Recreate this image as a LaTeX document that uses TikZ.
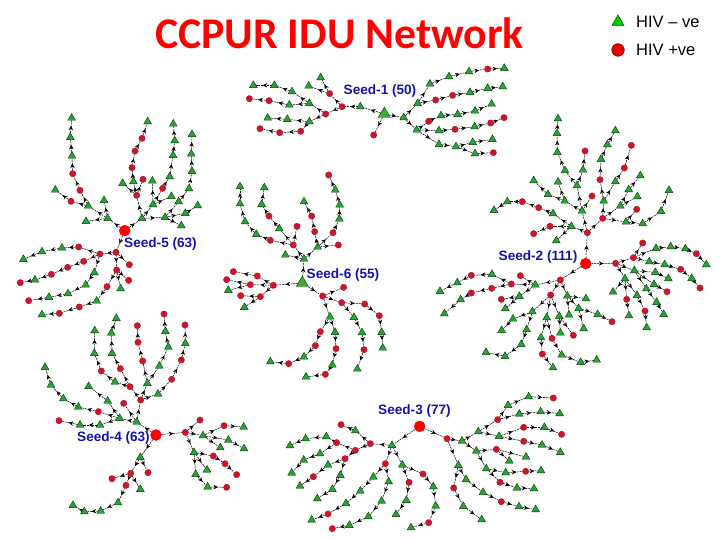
\documentclass[tikz,border=0pt]{standalone}
\usepackage{fontspec}
\setmainfont{Liberation Sans}
\newfontfamily\titlefont{Carlito}
\usetikzlibrary{arrows.meta,backgrounds,decorations.markings,shapes.geometric}
\definecolor{hivneg}{RGB}{46,160,58}
\definecolor{hivpos}{RGB}{205,20,40}
\definecolor{seedblue}{RGB}{20,20,170}
\tikzset{
  gn/.style={draw=black!75!green,line width=.4pt,fill=hivneg,regular polygon,regular polygon sides=3,inner sep=0pt,minimum size=9pt},
  rd/.style={draw=hivpos!80!black,line width=.3pt,fill=hivpos,circle,inner sep=0pt,minimum size=6.4pt},
  rootgn/.style={gn,fill=hivneg!90!lime,minimum size=14pt},
  rootrd/.style={draw=red!85!black,line width=.3pt,fill=red,circle,inner sep=0pt,minimum size=11pt},
  seedlabel/.style={text=seedblue,font=\fontsize{13.6}{15}\selectfont\bfseries,inner sep=0pt},
  legendtext/.style={font=\fontsize{16.5}{19}\selectfont,inner sep=0pt,anchor=west},
  link/.style={line width=.5pt,dash pattern=on 2pt off .8pt,
    postaction={decorate,decoration={markings,mark=at position .58 with {\arrow[solid]{Stealth[length=4.6pt,width=4.4pt]}}}}},
}
% tree in crop coordinates: #1 id, #2 crop corner, #3 root style, #4 root position, #5 kind/id/x/y/parent
\newcommand{\seedtree}[5]{%
  \begin{scope}[shift={#2},x=.33333pt,y=-.33333pt]
    \node[#3] (s#1-0) at #4 {};
    \foreach \k/\n/\x/\y/\p in {#5}
      \node[\k] (s#1-\n) at (\x,\y) {};
    \begin{scope}[on background layer]
      \foreach \k/\n/\x/\y/\p in {#5}
        \draw[link] (s#1-\p) -- (s#1-\n);
    \end{scope}
  \end{scope}}
\begin{document}
\begin{tikzpicture}[x=1pt,y=-1pt]
  \useasboundingbox (0,0) rectangle (720,540);

  \node[text=red,font=\fontsize{43.8}{48}\selectfont\titlefont\bfseries,inner sep=0pt] (title) at (339.5,33) {CCPUR IDU Network};

  % legend
  \node[draw=black!70!green,line width=.5pt,fill=green!80!black,regular polygon,regular polygon sides=3,inner sep=0pt,minimum size=14pt] (legneg) at (618,22) {};
  \node[draw=red!60!black,line width=.7pt,fill=red!90!black,circle,inner sep=0pt,minimum size=12.5pt] (legpos) at (618,50) {};
  \node[legendtext] (legnegtext) at (636,22) {HIV -- ve};
  \node[legendtext] (legpostext) at (636,50) {HIV +ve};

  % seed 1
  \seedtree{1}{(230,60)}{rootgn}{(463,162)}{
    gn/1/391/140/0,rd/2/336/140/1,rd/3/299/101/2,gn/4/272/53/3,gn/5/236/78/3,rd/6/287/162/2,
    gn/7/238/130/6,gn/8/186/95/7,gn/9/133/76/8,gn/10/70/76/9,gn/11/178/135/7,rd/12/117/122/11,
    rd/13/58/116/12,gn/14/238/185/6,rd/15/212/214/14,rd/16/149/218/15,rd/17/90/206/16,
    gn/18/172/178/14,gn/19/113/174/18,rd/20/431/225/0,gn/21/521/173/0,gn/22/563/130/21,
    gn/23/600/72/22,gn/24/657/50/23,gn/25/717/35/24,rd/26/773/27/25,gn/27/823/25/26,
    rd/28/617/120/22,rd/29/668/106/28,gn/30/720/97/29,gn/31/773/85/30,gn/32/818/80/31,
    gn/33/560/210/21,rd/34/596/184/33,gn/35/633/167/34,gn/36/683/163/35,gn/37/735/153/36,
    gn/38/785/132/37,gn/39/627/212/33,rd/40/675/208/39,gn/41/734/200/40,rd/42/782/189/41,
    rd/43/822/173/42,gn/44/627/253/33,gn/45/678/260/44,gn/46/728/247/45,gn/47/787/238/46,
    gn/48/735/281/45,rd/49/790/278/48}
  \node[seedlabel] (lab1) at (380,91) {Seed-1 (50)};

  % seed 5
  \seedtree{5}{(10,100)}{rootrd}{(344,392)}{
    gn/1/293/355/0,gn/2/228/364/1,gn/3/282/301/1,gn/4/235/318/1,rd/5/183/304/4,gn/6/136/270/5,
    rd/7/210/271/4,rd/8/188/221/7,gn/9/186/168/8,gn/10/181/112/9,gn/11/185/54/10,
    gn/12/396/355/0,rd/13/380/286/12,gn/14/338/250/13,gn/15/370/245/13,rd/16/366/203/15,
    rd/17/375/153/16,rd/18/396/115/17,gn/19/413/65/18,rd/20/399/238/13,gn/21/429/314/12,
    gn/22/427/243/21,rd/23/458/265/21,gn/24/479/230/23,gn/25/489/166/24,gn/26/494/122/25,
    gn/27/490/72/26,gn/28/484/289/21,gn/29/465/352/12,gn/30/506/305/29,gn/31/537/266/30,
    gn/32/546/214/31,gn/33/544/162/32,gn/34/546/103/33,gn/35/526/340/29,gn/36/563/317/35,
    gn/37/514/377/29,rd/38/318/457/0,rd/39/358/494/38,rd/40/270/462/38,rd/41/206/441/40,
    gn/42/156/444/41,gn/43/96/455/42,gn/44/40/478/43,rd/45/221/484/40,rd/46/173/502/45,
    rd/47/124/523/46,gn/48/75/540/47,rd/49/31/548/48,gn/50/253/518/40,gn/51/227/555/50,
    gn/52/174/581/51,gn/53/117/592/52,rd/54/56/602/53,rd/55/320/510/38,rd/56/356/541/55,
    gn/57/332/566/55,rd/58/291/560/55,gn/59/260/603/58,rd/60/208/621/59,rd/61/148/640/60,
    gn/62/96/644/61}
  \node[seedlabel] (lab5) at (160.5,244) {Seed-5 (63)};

  % seed 6
  \seedtree{6}{(215,165)}{rootgn}{(262,354)}{
    gn/1/267/282/0,gn/2/211/270/1,rd/3/235/240/1,rd/4/246/184/3,gn/5/193/191/3,rd/6/162/153/5,
    gn/7/140/118/6,gn/8/148/68/7,rd/9/166/226/3,gn/10/124/208/9,gn/11/90/170/10,gn/12/75/116/11,
    gn/13/75/65/12,gn/14/308/246/1,rd/15/299/200/14,rd/16/290/153/15,gn/17/267/110/16,
    rd/18/354/203/14,gn/19/373/162/18,gn/20/374/120/19,gn/21/361/75/20,rd/22/341/30/21,
    rd/23/370/240/14,rd/24/175/361/0,rd/25/127/333/24,rd/26/55/320/25,rd/27/106/359/24,
    rd/28/35/344/27,gn/29/40/376/27,rd/30/136/395/24,rd/31/77/392/30,gn/32/88/427/30,
    rd/33/323/393/0,rd/34/386/367/33,rd/35/380/413/33,rd/36/449/417/35,rd/37/493/452/36,
    gn/38/500/502/37,gn/39/503/549/38,gn/40/417/457/35,gn/41/441/503/40,rd/42/447/554/41,
    gn/43/427/612/42,gn/44/345/456/33,gn/45/360/502/44,rd/46/363/551/45,gn/47/352/600/46,
    rd/48/331/628/47,gn/49/273/636/48,rd/50/316/500/44,rd/51/301/542/50,gn/52/267/576/51,
    rd/53/221/596/52,gn/54/166/590/53}
  \node[seedlabel] (lab6) at (343,275) {Seed-6 (55)};

  % seed 2
  \seedtree{2}{(430,105)}{rootrd}{(467,476)}{
    rd/1/472/383/0,gn/2/424/364/1,rd/3/360/364/2,rd/4/311/386/3,gn/5/379/407/2,gn/6/369/326/2,
    rd/7/326/308/6,rd/8/277/290/7,gn/9/232/290/8,gn/10/192/316/9,gn/11/456/318/1,rd/12/486/273/11,
    gn/13/404/288/11,gn/14/354/268/13,gn/15/311/227/14,gn/16/384/231/13,gn/17/441/242/11,
    gn/18/459/195/17,rd/19/465/138/18,gn/20/405/197/17,gn/21/382/142/20,gn/22/381/85/21,
    gn/23/384/41/22,rd/24/518/340/1,gn/25/521/288/24,rd/26/510/224/25,gn/27/513/163/26,
    gn/28/532/119/27,gn/29/556/77/28,gn/30/571/303/24,gn/31/622/275/30,gn/32/596/254/30,
    gn/33/631/212/32,gn/34/556/230/25,rd/35/583/189/34,rd/36/604/121/35,gn/37/588/351/24,
    rd/38/620/313/37,gn/39/638/356/37,gn/40/693/319/39,gn/41/717/256/40,rd/42/557/475/0,
    rd/43/610/458/42,rd/44/638/414/43,gn/45/678/430/43,gn/46/722/425/45,gn/47/766/431/46,
    rd/48/799/446/47,gn/49/829/479/48,gn/50/658/470/43,gn/51/704/479/50,rd/52/752/493/51,
    gn/53/785/520/52,rd/54/810/549/53,gn/55/613/497/42,gn/56/676/502/55,gn/57/715/521/56,
    gn/58/672/538/55,rd/59/711/560/58,gn/60/649/551/55,gn/61/680/592/60,gn/62/701/628/61,
    gn/63/585/521/42,gn/64/549/561/63,gn/65/621/571/63,rd/66/645/618/65,gn/67/650/668/66,
    rd/68/590/583/63,gn/69/597/632/68,rd/70/391/525/0,gn/71/316/540/70,rd/72/271/512/71,
    rd/73/244/537/71,gn/74/186/508/73,rd/75/124/511/74,gn/76/82/533/75,gn/77/30/559/76,
    rd/78/185/550/73,rd/79/124/564/78,gn/80/92/584/79,gn/81/43/626/80,gn/82/268/574/71,
    rd/83/214/583/82,gn/84/226/611/82,rd/85/362/570/70,gn/86/307/620/85,gn/87/249/642/86,
    gn/88/215/676/87,gn/89/290/674/86,gn/90/274/718/89,gn/91/225/754/90,gn/92/168/742/91,
    gn/93/350/638/85,gn/94/333/698/93,rd/95/337/747/94,gn/96/369/788/95,rd/97/366/700/93,
    gn/98/395/750/97,gn/99/452/772/98,gn/100/500/765/99,gn/101/388/634/85,gn/102/391/684/101,
    rd/103/430/691/101,gn/104/412/573/70,gn/105/468/581/104,gn/106/417/630/104,gn/107/446/610/104,
    gn/108/461/671/107,gn/109/503/628/107,rd/110/546/650/109}
  \node[seedlabel] (lab2) at (538,257) {Seed-2 (111)};

  % seed 4
  \seedtree{4}{(30,305)}{rootrd}{(378,390)}{
    gn/1/320/351/0,gn/2/269/340/1,rd/3/281/295/1,rd/4/332/285/1,gn/5/352/235/4,gn/6/388/183/5,
    gn/7/415/126/6,gn/8/406/79/7,rd/9/402/27/8,rd/10/338/168/5,rd/11/324/112/10,rd/12/322/62/11,
    gn/13/384/267/4,rd/14/425/223/13,rd/15/454/165/14,gn/16/466/115/15,rd/17/465/60/16,
    rd/18/300/245/4,gn/19/255/231/18,rd/20/271/191/18,gn/21/246/145/20,gn/22/244/84/21,
    gn/23/259/40/22,gn/24/233/288/2,gn/25/176/244/24,rd/26/214/198/19,gn/27/193/145/26,
    gn/28/194/77/27,rd/29/205/320/2,gn/30/145/306/29,gn/31/100/281/30,gn/32/63/240/31,
    gn/33/45/187/32,gn/34/210/360/2,gn/35/150/360/34,rd/36/87/347/35,rd/37/466/382/0,
    rd/38/510/345/37,gn/39/519/392/37,rd/40/582/362/39,gn/41/641/366/40,gn/42/595/405/39,
    gn/43/642/431/42,gn/44/571/428/39,gn/45/492/442/37,rd/46/550/453/45,rd/47/585/476/46,
    rd/48/620/509/47,gn/49/531/495/45,gn/50/497/508/45,gn/51/533/546/50,rd/52/590/547/51,
    gn/53/331/457/0,rd/54/354/503/53,rd/55/302/505/53,rd/56/246/521/55,gn/57/331/553/55,
    rd/58/288/541/55,gn/59/264/593/58,gn/60/212/618/59,gn/61/163/620/60,gn/62/129/601/61}
  \node[seedlabel] (lab4) at (113.5,438) {Seed-4 (63)};

  % seed 3
  \seedtree{3}{(280,395)}{rootrd}{(419,94)}{
    gn/1/336/151/0,rd/2/271/146/1,gn/3/226/107/2,rd/4/183/89/3,rd/5/226/166/2,rd/6/170/143/5,
    gn/7/139/125/6,gn/8/77/131/7,gn/9/30/152/8,gn/10/120/176/6,gn/11/71/195/10,gn/12/35/234/11,
    rd/13/195/191/5,gn/14/144/210/13,rd/15/100/245/14,gn/16/60/273/15,gn/17/181/241/13,
    gn/18/157/283/17,gn/19/112/311/18,rd/20/316/206/1,gn/21/280/246/20,gn/22/241/288/21,
    gn/23/198/325/22,rd/24/144/357/23,gn/25/95/375/24,gn/26/326/260/20,gn/27/305/318/26,
    gn/28/265/365/27,gn/29/208/391/28,rd/30/157/401/29,gn/31/367/210/1,rd/32/387/262/31,
    gn/33/379/316/32,gn/34/348/358/33,rd/35/429/237/31,gn/36/460/275/35,gn/37/467/333/36,
    rd/38/446/383/37,gn/39/393/398/38,rd/40/501/131/0,gn/41/546/138/40,gn/42/595/110/41,
    rd/43/653/74/42,gn/44/684/31/43,gn/45/746/5/44,rd/46/820/9/45,gn/47/718/57/43,gn/48/782/50/47,
    gn/49/839/56/48,gn/50/657/124/42,rd/51/731/97/50,gn/52/793/97/51,rd/53/845/118/52,
    rd/54/731/139/50,gn/55/786/150/54,gn/56/841/172/55,gn/57/589/168/41,gn/58/619/221/57,
    gn/59/677/233/58,rd/60/737/229/59,gn/61/783/227/60,rd/62/660/262/58,gn/63/711/279/62,
    gn/64/762/281/63,rd/65/649/163/57,gn/66/688/198/65,gn/67/738/186/65,gn/68/535/211/40,
    gn/69/558/254/68,gn/70/609/292/69,rd/71/664/320/70,gn/72/717/335/71,gn/73/767/344/72,
    rd/74/521/279/68,gn/75/550/334/74,gn/76/605/374/75}
  \node[seedlabel] (lab3) at (414.5,411) {Seed-3 (77)};
\end{tikzpicture}
\end{document}
